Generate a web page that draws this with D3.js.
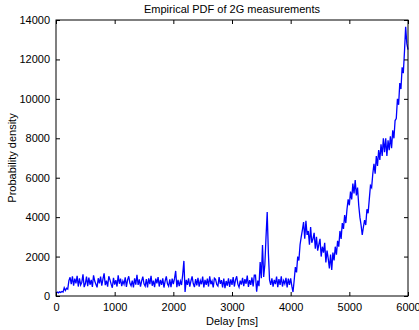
<!DOCTYPE html>
<html>
<head>
<meta charset="utf-8">
<script src="https://cdn.jsdelivr.net/npm/d3@7.9.0/dist/d3.min.js"></script>
<style>
  body { margin: 0; background: #fff; }
  svg text { font-family: "Liberation Sans", Arial, sans-serif; font-size: 11px; fill: #000; }
</style>
</head>
<body>
<svg id="chart" width="419" height="330"></svg>
<script>
// density values read every 20 ms from 0 to 6000 ms
const step = 20;
const density = [
  150, 200, 160, 210, 180, 230, 200, 420, 280, 390,
  350, 780, 950, 600, 1000, 520, 880, 640, 1020, 480,
  900, 560, 700, 1100, 450, 620, 980, 500, 930, 570,
  820, 460, 1050, 760, 600, 440, 900, 640, 980, 520,
  860, 1150, 550, 780, 470, 1000, 820, 600, 420, 920,
  580, 800, 480, 1050, 620, 880, 500, 760, 600, 950,
  460, 820, 1000, 640, 520, 780, 440, 900, 580, 1080,
  560, 840, 470, 760, 980, 620, 500, 860, 430, 900,
  600, 1020, 520, 780, 450, 880, 640, 960, 480, 820,
  560, 900, 430, 760, 1000, 620, 500, 840, 450, 880,
  600, 880, 1270, 450, 820, 500, 760, 560, 1100, 1780,
  200, 820, 560, 900, 480, 760, 1000, 620, 450, 860,
  540, 920, 470, 780, 600, 980, 430, 820, 560, 880,
  480, 1000, 600, 760, 440, 900, 840, 580, 500, 960,
  620, 800, 440, 880, 400, 760, 520, 900, 460, 840,
  560, 960, 480, 820, 1000, 600, 450, 780, 580, 920,
  500, 860, 620, 1040, 460, 800, 560, 940, 480, 1060,
  1060, 220, 780, 500, 1720, 900, 2590, 970, 1600, 3000,
  4260, 2180, 810, 560, 900, 480, 820, 600, 980, 450,
  860, 560, 1000, 480, 780, 620, 920, 440, 880, 560,
  900, 500, 200, 800, 1470, 1200, 2000, 1800, 2600, 3000,
  3350, 3750, 2900, 3820, 3100, 3300, 2600, 3500, 2700, 2900,
  3200, 2400, 3000, 2300, 2600, 2900, 2000, 2500, 2200, 2700,
  1700, 2300, 1900, 1400, 2100, 1320, 2200, 1800, 2500, 2100,
  2800, 2500, 3300, 2900, 3700, 3400, 4100, 3700, 4400, 4900,
  4600, 5300, 4900, 5700, 5200, 5880, 5100, 5500, 4600, 4000,
  3600, 3100, 3500, 3850, 3600, 4400, 4200, 4900, 5600, 5500,
  6200, 6700, 6200, 7100, 6600, 7400, 6900, 7700, 7100, 8000,
  7300, 8000, 7100, 7900, 7400, 8100, 7500, 8400, 8000, 8900,
  9000, 10000, 9700, 10800, 10500, 11600, 11300, 12400, 13650, 12800,
  12500
];
const xTicks = [0, 1000, 2000, 3000, 4000, 5000, 6000];
const yTicks = [0, 2000, 4000, 6000, 8000, 10000, 12000, 14000];

const svg = d3.select("#chart");
const margin = { left: 56, right: 11, top: 20, bottom: 34 };
const W = 419, H = 330;
const x = d3.scaleLinear().domain([0, 6000]).range([margin.left, W - margin.right]);
const y = d3.scaleLinear().domain([0, 14000]).range([H - margin.bottom, margin.top]);

const points = density.map((v, i) => [i * step, v]);

// data line
svg.append("path")
  .datum(points)
  .attr("fill", "none")
  .attr("stroke", "#0000ff")
  .attr("stroke-width", 1.3)
  .attr("stroke-linejoin", "miter")
  .attr("d", d3.line().x(d => x(d[0])).y(d => y(d[1])));

// axes, ticks pointing inward like matlab
const tick = 4;
const fmt = d3.format("d");
const axBottom = svg.append("g").attr("transform", `translate(0,${y(0)})`)
  .call(d3.axisBottom(x).tickValues(xTicks).tickSizeInner(-tick).tickSizeOuter(0).tickPadding(7).tickFormat(fmt));
const axTop = svg.append("g").attr("transform", `translate(0,${y(14000)})`)
  .call(d3.axisTop(x).tickValues(xTicks).tickSizeInner(-tick).tickSizeOuter(0).tickFormat(""));
const axLeft = svg.append("g").attr("transform", `translate(${x(0)},0)`)
  .call(d3.axisLeft(y).tickValues(yTicks).tickSizeInner(-tick).tickSizeOuter(0).tickPadding(6).tickFormat(fmt));
const axRight = svg.append("g").attr("transform", `translate(${x(6000)},0)`)
  .call(d3.axisRight(y).tickValues(yTicks).tickSizeInner(-tick).tickSizeOuter(0).tickFormat(""));

[axBottom, axTop, axLeft, axRight].forEach(g => {
  g.select(".domain").remove();
  g.selectAll("text").attr("font-size", 11).attr("font-family", "Liberation Sans, Arial, sans-serif");
  g.selectAll("line").attr("stroke", "#000");
});

// box
svg.append("rect")
  .attr("x", x(0)).attr("y", y(14000))
  .attr("width", x(6000) - x(0)).attr("height", y(0) - y(14000))
  .attr("fill", "none").attr("stroke", "#000").attr("stroke-width", 1);

// titles
svg.append("text").attr("x", (x(0) + x(6000)) / 2).attr("y", 13)
  .attr("text-anchor", "middle").text("Empirical PDF of 2G measurements");
svg.append("text").attr("x", (x(0) + x(6000)) / 2).attr("y", 325)
  .attr("text-anchor", "middle").text("Delay [ms]");
svg.append("text")
  .attr("transform", `translate(16,${(y(0) + y(14000)) / 2}) rotate(-90)`)
  .attr("text-anchor", "middle").text("Probability density");
</script>
</body>
</html>
